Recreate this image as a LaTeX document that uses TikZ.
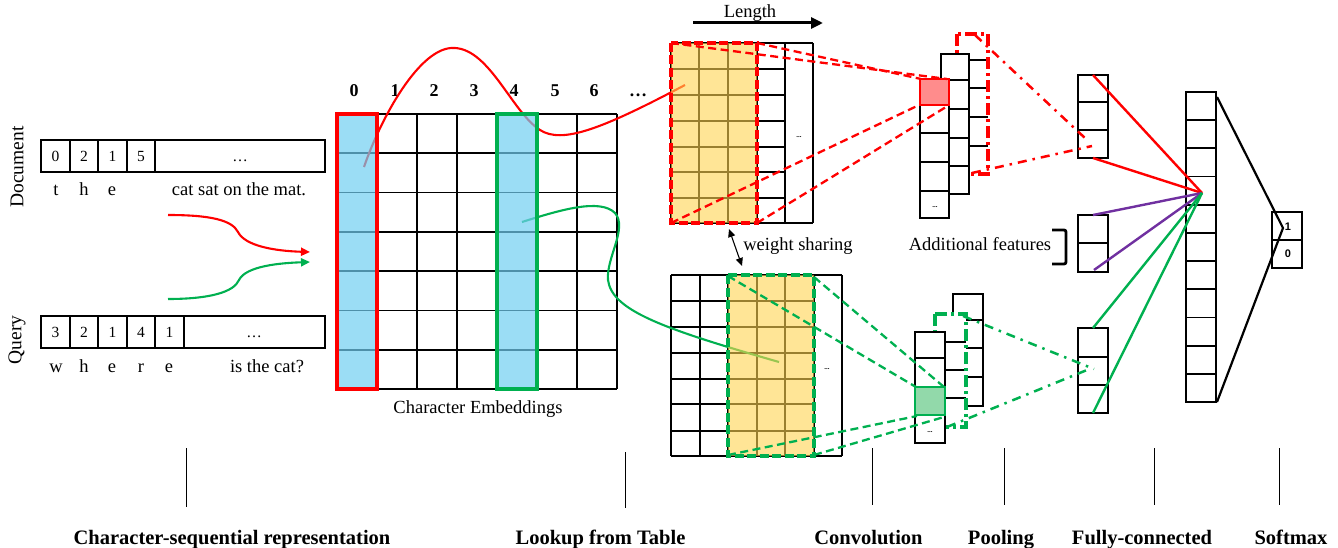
\documentclass[tikz,border=0pt]{standalone}
\usepackage{fontspec}
\setmainfont{Liberation Serif}
\newfontfamily\sansb{Liberation Sans}
\usetikzlibrary{arrows.meta}
\definecolor{myred}{HTML}{FF0000}
\definecolor{mygreen}{HTML}{00B050}
\definecolor{mypurple}{HTML}{7030A0}
\definecolor{myblue}{RGB}{112,206,241}
\definecolor{myyellow}{RGB}{255,212,80}
\definecolor{cellred}{RGB}{255,140,140}
\definecolor{cellgreen}{RGB}{146,217,170}
\tikzset{
 gridl/.style={line width=1.8pt, draw=black},
 dashbox/.style={line width=3.2pt, dash pattern=on 9pt off 3.5pt},
 conn/.style={line width=2.3pt, dash pattern=on 8pt off 4.5pt},
 dashdot/.style={line width=2.5pt, dash pattern=on 9pt off 6pt on 2.5pt off 6pt},
 poolbox/.style={line width=3.2pt, dash pattern=on 12pt off 4pt on 3pt off 4pt},
 curve/.style={line width=2.1pt},
 fcline/.style={line width=2.4pt},
 txt/.style={inner sep=0pt, font=\fontsize{18.5}{20}\selectfont, anchor=base},
 side/.style={inner sep=0pt, font=\fontsize{19.5}{21}\selectfont, rotate=90},
 lbl/.style={inner sep=0pt, font=\fontsize{20.5}{22}\selectfont\bfseries, anchor=base},
 colnum/.style={inner sep=0pt, font=\fontsize{18}{20}\selectfont\bfseries, anchor=base},
 digit/.style={inner sep=0pt, font=\fontsize{15.5}{17}\selectfont, anchor=base},
 tinydots/.style={inner sep=0pt, font=\fontsize{7}{8}\selectfont\bfseries},
 smx/.style={inner sep=0pt, font=\sansb\fontsize{11}{12}\selectfont\bfseries},
 tip/.style={-{Triangle[length=9pt,width=8pt]}},
}
\begin{document}
\begin{tikzpicture}[x=1pt,y=-1pt]
\useasboundingbox (0,0) rectangle (1338,548);

% ---------- left: character sequences ----------
\node[side] (doclbl) at (17,167) {Document};
\node[side] (qlbl) at (17,340) {Query};
\draw[gridl] (41,140) rectangle (325,172);
\foreach \x in {70,98,127,155} \draw[gridl] (\x,140) -- (\x,172);
\foreach \x/\t [count=\i] in {55.5/0,84/2,112.5/1,141/5} \node[digit] (dd\i) at (\x,162) {\t};
\node[digit] (ddots) at (240,162) {…};
\foreach \x/\t [count=\i] in {56/t,84/h,112/e} \node[txt] (dl\i) at (\x,196) {\t};
\node[txt] (drest) at (239,196) {cat sat on the mat.};

\draw[gridl] (41,316) rectangle (325,348);
\foreach \x in {70,98,127,155,184} \draw[gridl] (\x,316) -- (\x,348);
\foreach \x/\t [count=\i] in {55.5/3,84/2,112.5/1,141/4,169.5/1} \node[digit] (qd\i) at (\x,337) {\t};
\node[digit] (qdots) at (254,337) {…};
\foreach \x/\t [count=\i] in {56/w,84/h,112/e,141/r,169/e} \node[txt] (ql\i) at (\x,372) {\t};
\node[txt] (qrest) at (267,372) {is the cat?};

\coordinate (rs) at (168,215); \coordinate (re) at (310,252);
\coordinate (gs) at (168,299); \coordinate (ge) at (310,262);
\draw[curve, myred, tip] (rs) .. controls (210,215) and (232,220) .. (238,232) .. controls (245,246) and (275,251) .. (re);
\draw[curve, mygreen, tip] (gs) .. controls (210,299) and (234,292) .. (239,280) .. controls (246,266) and (280,263) .. (ge);

% ---------- embedding table ----------
\foreach \x in {337,377,...,617} \draw[gridl] (\x,114) -- (\x,389);
\foreach \i in {0,...,7} \draw[gridl] (337,114+\i*39.2857) -- (617,114+\i*39.2857);
\foreach \x/\t [count=\i] in {354/0,395/1,434/2,474/3,514/4,555/5,594/6,638/…} \node[colnum] (c\i) at (\x,97) {\t};
\node[txt] (celbl) at (478,413) {Character Embeddings};

% ---------- top conv block lines ----------
\foreach \x in {671,699,728,757,785,813} \draw[gridl] (\x,43) -- (\x,223);
\draw[gridl] (671,43) -- (813,43); \draw[gridl] (671,223) -- (813,223);
\foreach \y in {69,95,121,147,172,198} \draw[gridl] (671,\y) -- (785,\y);
\node[tinydots] (tdots) at (799,137) {...};

% ---------- bottom conv block lines ----------
\foreach \x in {671,700,728,757,785,814,842} \draw[gridl] (\x,275) -- (\x,456);
\draw[gridl] (671,275) -- (842,275); \draw[gridl] (671,456) -- (842,456);
\foreach \y in {301,327,353,379,404,431} \draw[gridl] (671,\y) -- (814,\y);
\node[tinydots] (bdots) at (827,369) {...};

% ---------- lookup curves ----------
\draw[curve, myred] (364,167) .. controls (380,120) and (420,45) .. (455,48) .. controls (490,50) and (512,112) .. (540,130) .. controls (562,144) and (600,130) .. (685,85);
\draw[curve, mygreen] (522,222) .. controls (560,210) and (600,198) .. (615,213) .. controls (628,228) and (606,258) .. (608,280) .. controls (612,310) and (660,328) .. (779,362);

% ---------- translucent fills ----------
\fill[myblue, opacity=0.7] (337,114) rectangle (377,389);
\fill[myblue, opacity=0.7] (497,114) rectangle (537,389);
\fill[myyellow, opacity=0.6] (671,43) rectangle (757,223);
\fill[myyellow, opacity=0.6] (728,275) rectangle (814,456);

\draw[myred, line width=3.8pt] (337,114) rectangle (377,389);
\draw[mygreen, line width=3.8pt] (497,114) rectangle (537,389);
\draw[myred, dashbox] (671,43) rectangle (757,223);
\draw[mygreen, dashbox] (728,275) rectangle (814,456);

% ---------- Length & weight sharing ----------
\node[txt] (lenlbl) at (750,18) {Length};
\coordinate (la) at (693,23); \coordinate (lb) at (823,23);
\draw[line width=3pt, -{Triangle[length=12pt,width=11pt]}] (la) -- (lb);
\node[txt] (wslbl) at (798,250) {weight sharing};
\coordinate (wa) at (729,229); \coordinate (wb) at (742,266);
\draw[line width=1.1pt, {Triangle[length=8pt,width=7pt]}-{Triangle[length=8pt,width=7pt]}] (wa) -- (wb);

% ---------- top pooling ----------
\fill[white] (957,34) rectangle (988,174);
\foreach \y in {60,88,117,146} \draw[gridl] (969,\y) -- (988,\y);
\draw[myred, poolbox] (957,34) rectangle (988,174);
\filldraw[fill=white, gridl] (941,54) rectangle (969,194);
\foreach \y in {80,109,138,166} \draw[gridl] (949,\y) -- (969,\y);
\filldraw[fill=white, gridl] (920,79) rectangle (949,218);
\foreach \y in {105,133,162,191} \draw[gridl] (920,\y) -- (949,\y);
\filldraw[fill=cellred, draw=myred, line width=2.7pt] (920,79) rectangle (949,105);
\node[tinydots] (pdots1) at (935,207) {...};

% ---------- bottom pooling ----------
\filldraw[fill=white, gridl] (953,294) rectangle (983,406);
\foreach \y in {320,348,377} \draw[gridl] (966,\y) -- (983,\y);
\fill[white] (935,314) rectangle (966,427);
\foreach \y in {342,370,398} \draw[gridl] (945,\y) -- (966,\y);
\draw[mygreen, poolbox] (935,314) rectangle (966,427);
\filldraw[fill=white, gridl] (915,332) rectangle (945,443);
\foreach \y in {358,387,415} \draw[gridl] (915,\y) -- (945,\y);
\filldraw[fill=cellgreen, draw=mygreen, line width=2.7pt] (915,387) rectangle (945,415);
\node[tinydots] (pdots2) at (930,432) {...};

% ---------- conv connectors ----------
\draw[myred, conn] (671,43) -- (947,79);
\draw[myred, conn] (757,43) -- (921,79);
\draw[myred, conn] (671,223) -- (917,106);
\draw[myred, conn] (757,223) -- (946,107);
\draw[mygreen, conn] (728,276) -- (916,387);
\draw[mygreen, conn] (814,277) -- (944,387);
\draw[mygreen, conn] (728,455) -- (917,416);
\draw[mygreen, conn] (814,455) -- (944,417);

% ---------- FC columns ----------
\draw[gridl] (1078,75) rectangle (1108,158);
\foreach \y in {102,130} \draw[gridl] (1078,\y) -- (1108,\y);
\draw[gridl] (1078,215) rectangle (1108,272);
\draw[gridl] (1078,243) -- (1108,243);
\draw[gridl] (1078,328) rectangle (1108,413);
\foreach \y in {357,385} \draw[gridl] (1078,\y) -- (1108,\y);
\draw[gridl] (1186,92) rectangle (1216,402);
\foreach \i in {1,...,10} \draw[gridl] (1186,92+\i*28.18) -- (1216,92+\i*28.18);
\draw[gridl] (1272,212) rectangle (1302,268);
\draw[gridl] (1272,240) -- (1302,240);
\node[smx] (s1) at (1288,227) {1};
\node[smx] (s0) at (1288,254) {0};

\node[txt] (addlbl) at (980,250) {Additional features};
\draw[line width=2.8pt, rounded corners=2pt] (1052,230) -- (1066,230) -- (1066,264) -- (1052,264);

% pooling -> FC
\draw[myred, dashdot] (975,35) -- (1086,139);
\draw[myred, dashdot] (972,173) -- (1092,146);
\draw[mygreen, dashdot] (963,316) -- (1094,369);
\draw[mygreen, dashdot] (947,427) -- (1087,370);

% FC -> hidden
\coordinate (hub) at (1202,193);
\draw[myred, fcline] (1093,75) -- (hub);
\draw[myred, fcline] (1093,158) -- (hub);
\draw[mypurple, fcline] (1093,215) -- (hub);
\draw[mypurple, fcline] (1094,270) -- (hub);
\draw[mygreen, fcline] (1093,328) -- (hub);
\draw[mygreen, fcline] (1093,413) -- (hub);

% hidden -> softmax
\coordinate (apex) at (1283,228);
\draw[line width=2.2pt] (1217,97) -- (apex) -- (1217,402);

% ---------- bottom ticks and labels ----------
\foreach \x/\a/\b in {186/448/507,625/452/508,872/448/505,1004/448/505,1154/448/505,1279/448/505} \draw[line width=1pt] (\x,\a) -- (\x,\b);
\node[lbl] (l1) at (232,544) {Character-sequential representation};
\node[lbl] (l2) at (600.5,544) {Lookup from Table};
\node[lbl] (l3) at (868.5,544) {Convolution};
\node[lbl] (l4) at (1001,544) {Pooling};
\node[lbl] (l5) at (1142,544) {Fully-connected};
\node[lbl] (l6) at (1291,544) {Softmax};
\end{tikzpicture}
\end{document}
